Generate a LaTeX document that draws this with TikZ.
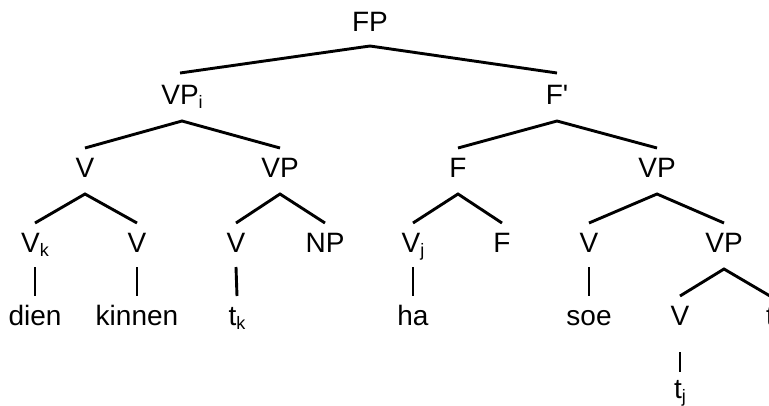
\documentclass[tikz,border=0pt]{standalone}
\usepackage{fontspec}
\setmainfont{Liberation Sans}[Ligatures=TeXOff]
\newcommand\lsub[1]{\raisebox{-4pt}{\fontsize{18}{18}\selectfont #1}}
\begin{document}
\begin{tikzpicture}[x=1pt,y=-1pt,
  lab/.style={anchor=base, inner sep=0pt, font=\fontsize{28}{28}\selectfont},
  edge/.style={line width=2.9pt}]
\useasboundingbox (0,0) rectangle (769,405);
\node[lab] (FP) at (370,31) {FP};
\node[lab] (VPi) at (182,104) {VP\lsub{i}};
\node[lab] (Fb) at (557,104) {F'};
\node[lab] (V1) at (85,177) {V};
\node[lab] (VP1) at (280,177) {VP};
\node[lab] (F1) at (458,177) {F};
\node[lab] (VP2) at (657,177) {VP};
\node[lab] (Vk) at (35,252) {V\lsub{k}};
\node[lab] (V2) at (137,252) {V};
\node[lab] (V3) at (236,252) {V};
\node[lab] (NP) at (325,252) {NP};
\node[lab] (Vj) at (413,252) {V\lsub{j}};
\node[lab] (F2) at (502,252) {F};
\node[lab] (V4) at (589,252) {V};
\node[lab] (VP3) at (724,252) {VP};
\node[lab] (dien) at (35,325) {dien};
\node[lab] (kinnen) at (137,325) {kinnen};
\node[lab] (tk) at (237,325) {t\lsub{k}};
\node[lab] (ha) at (413,325) {ha};
\node[lab] (soe) at (589,325) {soe};
\node[lab] (V5) at (680,325) {V};
\node[lab] (t) at (770,325) {t};
\node[lab] (tj) at (680,398) {t\lsub{j}};
% branches
\draw[edge] ([xshift=-2pt,yshift=31pt]VPi.base) -- ([yshift=-15pt]FP.base) -- ([yshift=31pt]Fb.base);
\foreach \p/\a/\b in {VPi/V1/VP1, Fb/F1/VP2, V1/Vk/V2, VP1/V3/NP, F1/Vj/F2, VP2/V4/VP3, VP3/V5/t}
  \draw[edge] ([yshift=29pt]\a.base) -- ([yshift=-17pt]\p.base) -- ([yshift=29pt]\b.base);
% unary
\foreach \p/\c in {Vk/dien, V2/kinnen, V3/tk, Vj/ha, V4/soe}
  \draw[edge] ([yshift=-15pt]\p.base) -- ([yshift=29pt]\c.base);
\draw[edge] ([yshift=-27pt]V5.base) -- ([yshift=26pt]tj.base);
\end{tikzpicture}
\end{document}
